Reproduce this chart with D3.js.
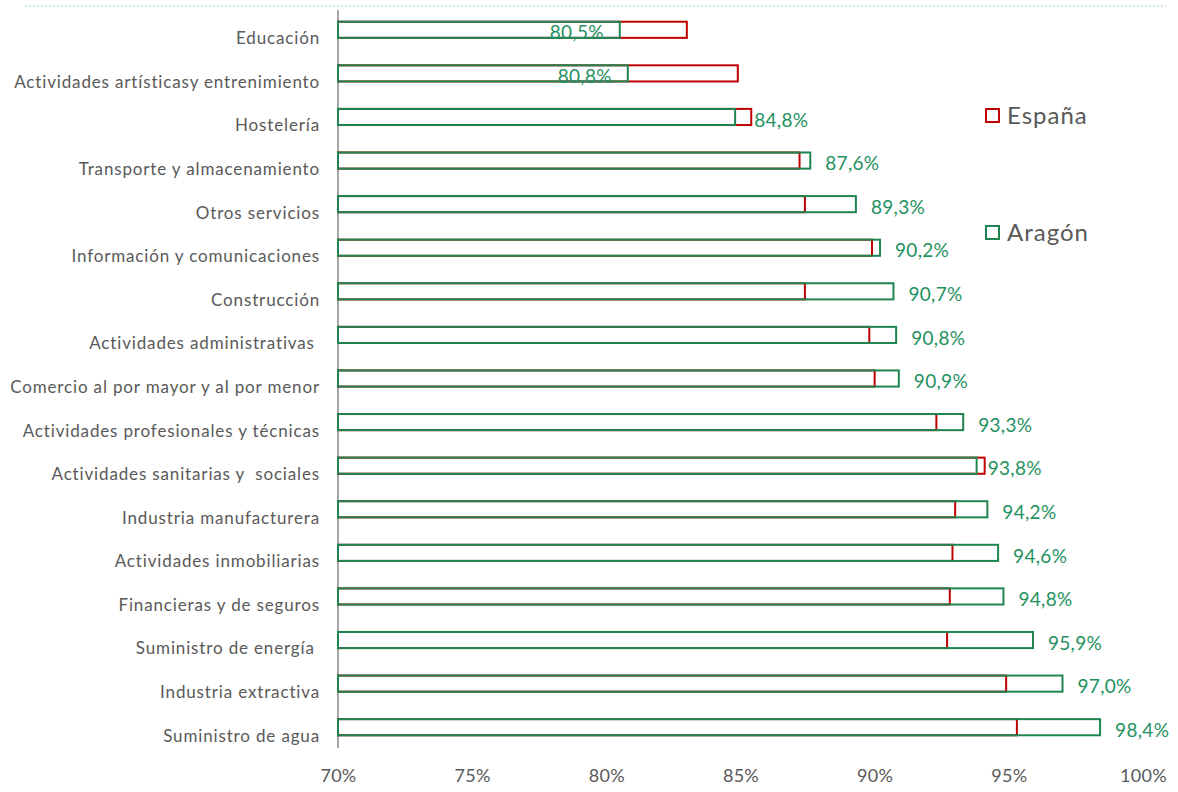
<!DOCTYPE html>
<html>
<head>
<meta charset="utf-8">
<script src="https://cdn.jsdelivr.net/npm/d3@7"></script>
<style>
  body { margin: 0; background: #fff; }
  #chart { width: 1178px; height: 792px; }
  text { font-family: Lato, "Open Sans", sans-serif; }
</style>
</head>
<body>
<div id="chart"></div>
<script>
// sectores, de arriba abajo
var categories = [
  "Educación",
  "Actividades artísticasy entrenimiento",
  "Hostelería",
  "Transporte y almacenamiento",
  "Otros servicios",
  "Información y comunicaciones",
  "Construcción",
  "Actividades administrativas ",
  "Comercio al por mayor y al por menor",
  "Actividades profesionales y técnicas",
  "Actividades sanitarias y  sociales",
  "Industria manufacturera",
  "Actividades inmobiliarias",
  "Financieras y de seguros",
  "Suministro de energía ",
  "Industria extractiva",
  "Suministro de agua"
];
var espana = [83.0, 84.9, 85.4, 87.2, 87.4, 89.9, 87.4, 89.8, 90.0, 92.3, 94.1, 93.0, 92.9, 92.8, 92.7, 94.9, 95.3];
var aragon = [80.5, 80.8, 84.8, 87.6, 89.3, 90.2, 90.7, 90.8, 90.9, 93.3, 93.8, 94.2, 94.6, 94.8, 95.9, 97.0, 98.4];
var xTicks = [70, 75, 80, 85, 90, 95, 100];
var seriesNames = ["España", "Aragón"];

var W = 1178, H = 792;
var red = "#C00000", green = "#1E8450", labelGreen = "#1F9160", grey = "#595959";

var svg = d3.select("#chart").append("svg").attr("width", W).attr("height", H);

var x = d3.scaleLinear().domain([70, 100]).range([338, 1143]);
var y = d3.scaleBand().domain(categories).range([8, 749]).paddingInner(0.63).paddingOuter(0.315);

var rows = categories.map(function(c, i) { return {cat: c, es: espana[i], ar: aragon[i]}; });

// linea punteada superior
svg.append("line")
  .attr("x1", 25).attr("x2", 1166).attr("y1", 6).attr("y2", 6)
  .attr("stroke", "#BFE2CF").attr("stroke-width", 1.5).attr("stroke-dasharray", "2,2");

// eje vertical
svg.append("line")
  .attr("x1", x(70)).attr("x2", x(70)).attr("y1", 10).attr("y2", 748)
  .attr("stroke", "#A6A6A6").attr("stroke-width", 2);

// España (rojo) primero, Aragón encima, sin relleno
svg.append("g").selectAll("rect")
  .data(rows).enter().append("rect")
    .attr("x", x(70))
    .attr("y", function(d) { return y(d.cat); })
    .attr("width", function(d) { return x(d.es) - x(70); })
    .attr("height", y.bandwidth())
    .attr("fill", "none").attr("stroke", red).attr("stroke-width", 2);

svg.append("g").selectAll("rect")
  .data(rows).enter().append("rect")
    .attr("x", x(70))
    .attr("y", function(d) { return y(d.cat); })
    .attr("width", function(d) { return x(d.ar) - x(70); })
    .attr("height", y.bandwidth())
    .attr("fill", "none").attr("stroke", green).attr("stroke-width", 2);

// etiquetas de Aragón
svg.append("g").selectAll("text")
  .data(rows).enter().append("text")
    .attr("x", function(d) {
      if (d.es - d.ar > 1) return x(d.ar) - 16;
      if (d.es > d.ar) return x(d.es) + 3;
      return x(d.ar) + 15;
    })
    .attr("y", function(d) { return y(d.cat) + y.bandwidth() / 2 + 3; })
    .attr("dy", "0.35em")
    .attr("text-anchor", function(d) { return d.es - d.ar > 1 ? "end" : "start"; })
    .attr("fill", labelGreen)
    .style("font-size", "19px")
    .style("letter-spacing", "0.3px")
    .text(function(d) { return d.ar.toFixed(1).replace(".", ",") + "%"; });

// eje y (categorias)
var yAxis = svg.append("g")
  .attr("transform", "translate(" + x(70) + ",9)")
  .call(d3.axisLeft(y).tickSize(0).tickPadding(18));
yAxis.select(".domain").remove();
yAxis.selectAll("text").attr("fill", grey)
  .style("white-space", "pre")
  .style("font-size", "17px").style("letter-spacing", "0.85px");

// eje x
var xAxis = svg.append("g")
  .attr("transform", "translate(0,763)")
  .call(d3.axisBottom(x).tickValues(xTicks).tickSize(0).tickPadding(6)
    .tickFormat(function(d) { return d + "%"; }));
xAxis.select(".domain").remove();
xAxis.selectAll("text").attr("fill", grey).style("font-size", "18px").style("letter-spacing", "0.3px");

// leyenda
var legend = svg.append("g").selectAll("g")
  .data(seriesNames).enter().append("g")
    .attr("transform", function(d, i) { return "translate(986," + (109 + i * 117) + ")"; });
legend.append("rect")
  .attr("width", 13).attr("height", 13)
  .attr("fill", "none").attr("stroke-width", 2)
  .attr("stroke", function(d, i) { return i === 0 ? red : green; });
legend.append("text")
  .attr("x", 21).attr("y", 7).attr("dy", "0.35em")
  .attr("fill", grey).style("font-size", "24px").style("letter-spacing", "1px")
  .text(function(d) { return d; });
</script>
</body>
</html>
